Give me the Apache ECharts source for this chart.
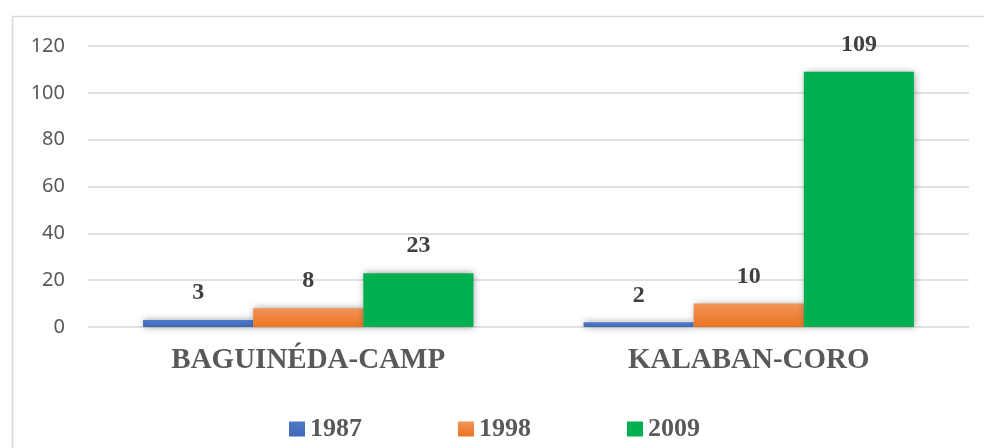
<!DOCTYPE html>
<html>
<head>
<meta charset="utf-8">
<script src="https://cdn.jsdelivr.net/npm/echarts@6/dist/echarts.min.js"></script>
<style>
  html, body { margin: 0; padding: 0; background: #fff; }
  #chart { width: 984px; height: 448px; }
</style>
</head>
<body>
<div id="chart"></div>
<script>
// data
var categories = ['BAGUINÉDA-CAMP', 'KALABAN-CORO']
var years = ['1987', '1998', '2009']
var values1987 = [3, 2]
var values1998 = [8, 10]
var values2009 = [23, 109]

var serif = "'Liberation Serif', 'DejaVu Serif', serif"

function grad(top, bottom) {
  return new echarts.graphic.LinearGradient(0, 0, 0, 1, [
    { offset: 0, color: top },
    { offset: 1, color: bottom }
  ])
}

function makeSeries(name, data, color) {
  return {
    name: name,
    type: 'bar',
    data: data,
    barGap: '0%',
    barCategoryGap: '25%',
    itemStyle: {
      color: color,
      shadowBlur: 7,
      shadowColor: 'rgba(0,0,0,0.4)',
      shadowOffsetX: 1
    },
    label: {
      show: true,
      position: 'top',
      distance: 15,
      fontFamily: serif,
      fontWeight: 'bold',
      fontSize: 24,
      color: '#404040'
    }
  }
}

var chart = echarts.init(document.getElementById('chart'), null, { renderer: 'canvas' })

chart.setOption({
  animation: false,
  color: ['#4472C4', '#ED7D31', '#00B050'],
  graphic: [{
    type: 'rect',
    shape: { x: 12.5, y: 16.5, width: 1000, height: 500 },
    style: { fill: 'none', stroke: '#d9d9d9', lineWidth: 1.5 },
    silent: true,
    z: -10
  }],
  grid: {
    left: 88,
    right: 15,
    top: 46,
    bottom: 121
  },
  legend: {
    data: years,
    left: 284,
    top: 411,
    itemWidth: 16,
    itemHeight: 15,
    itemGap: 96,
    icon: 'rect',
    textStyle: {
      fontFamily: serif,
      fontWeight: 'bold',
      fontSize: 26,
      color: '#595959'
    }
  },
  xAxis: {
    type: 'category',
    data: categories,
    axisLine: { show: false },
    axisTick: { show: false },
    axisLabel: {
      margin: 19,
      fontFamily: serif,
      fontWeight: 'bold',
      fontSize: 29,
      color: '#595959'
    }
  },
  yAxis: {
    type: 'value',
    min: 0,
    max: 120,
    interval: 20,
    axisLine: { show: false },
    axisTick: { show: false },
    axisLabel: {
      margin: 23,
      fontFamily: "'Noto Sans', sans-serif",
      fontSize: 20,
      color: '#595959'
    },
    splitLine: { lineStyle: { color: '#d9d9d9', width: 1.5 } }
  },
  series: [
    makeSeries(years[0], values1987, grad('#4F7ACB', '#3F69B8')),
    makeSeries(years[1], values1998, grad('#F29358', '#EB7522')),
    makeSeries(years[2], values2009, '#00B050')
  ]
})
</script>
</body>
</html>
